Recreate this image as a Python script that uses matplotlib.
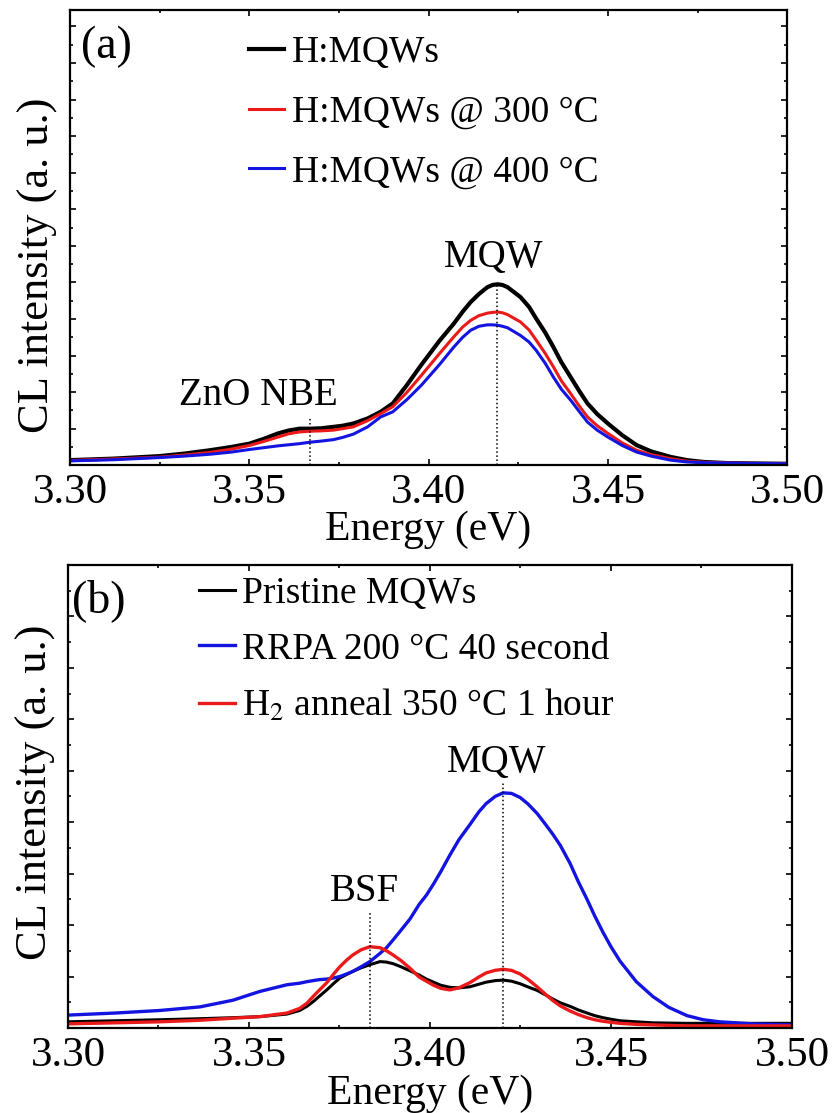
import numpy as np
import matplotlib
matplotlib.use('Agg')
import matplotlib.pyplot as plt
from matplotlib.ticker import MultipleLocator, FormatStrFormatter

plt.rcParams['font.family'] = ['Liberation Serif', 'DejaVu Serif']
plt.rcParams['mathtext.fontset'] = 'stix'

# panel (a) - H:MQWs annealed
energy_a = [3.300, 3.312, 3.325, 3.332, 3.339, 3.345, 3.350, 3.354, 3.358, 3.361,
            3.364, 3.367, 3.370, 3.3735, 3.376, 3.379, 3.383, 3.3866, 3.390, 3.394,
            3.398, 3.403, 3.407, 3.4095, 3.4117, 3.414, 3.4164, 3.4178, 3.4192, 3.4206,
            3.422, 3.4256, 3.428, 3.430, 3.4325, 3.4348, 3.437, 3.4396, 3.442, 3.4443,
            3.447, 3.450, 3.454, 3.458, 3.462, 3.4674, 3.472, 3.4766, 3.483, 3.490,
            3.500]
h_mqw = [0.14, 0.18, 0.25, 0.32, 0.41, 0.50, 0.59, 0.72, 0.87, 0.95,
         1.00, 1.00, 1.01, 1.05, 1.08, 1.14, 1.28, 1.46, 1.69, 2.20,
         2.75, 3.40, 3.87, 4.20, 4.46, 4.68, 4.87, 4.93, 4.95, 4.93,
         4.87, 4.60, 4.33, 4.01, 3.63, 3.23, 2.82, 2.41, 2.03, 1.69,
         1.40, 1.14, 0.82, 0.55, 0.38, 0.23, 0.14, 0.09, 0.06, 0.05,
         0.04]
h_mqw_300 = [0.13, 0.17, 0.22, 0.28, 0.35, 0.44, 0.54, 0.65, 0.77, 0.86,
             0.91, 0.93, 0.94, 0.96, 1.00, 1.05, 1.22, 1.41, 1.60, 2.00,
             2.46, 3.05, 3.51, 3.78, 3.96, 4.09, 4.16, 4.18, 4.19, 4.17,
             4.12, 3.92, 3.70, 3.42, 3.06, 2.69, 2.31, 1.96, 1.62, 1.32,
             1.08, 0.87, 0.61, 0.41, 0.29, 0.18, 0.11, 0.08, 0.06, 0.05,
             0.04]
h_mqw_400 = [0.12, 0.15, 0.21, 0.25, 0.30, 0.36, 0.43, 0.48, 0.53, 0.56,
             0.59, 0.63, 0.66, 0.70, 0.76, 0.85, 1.05, 1.32, 1.46, 1.80,
             2.19, 2.75, 3.23, 3.50, 3.69, 3.80, 3.84, 3.84, 3.83, 3.80,
             3.76, 3.55, 3.37, 3.14, 2.79, 2.41, 2.08, 1.78, 1.47, 1.18,
             0.96, 0.77, 0.54, 0.36, 0.25, 0.14, 0.09, 0.07, 0.06, 0.05,
             0.04]

# panel (b) - pristine / RRPA / H2 anneal
energy_b = [3.300, 3.313, 3.3254, 3.3365, 3.3456, 3.353, 3.3605, 3.364, 3.366, 3.3677,
            3.3695, 3.3715, 3.3733, 3.3751, 3.377, 3.3787, 3.381, 3.3834, 3.3862, 3.388,
            3.3898, 3.392, 3.3945, 3.397, 3.399, 3.401, 3.403, 3.4055, 3.408, 3.411,
            3.4135, 3.4155, 3.418, 3.4202, 3.4225, 3.4249, 3.427, 3.4296, 3.432, 3.434,
            3.436, 3.4387, 3.441, 3.4434, 3.4455, 3.4478, 3.450, 3.4525, 3.457, 3.4616,
            3.466, 3.471, 3.4755, 3.480, 3.4892, 3.500]
pristine = [0.12, 0.14, 0.16, 0.18, 0.20, 0.22, 0.27, 0.34, 0.42, 0.51,
            0.62, 0.74, 0.86, 0.97, 1.04, 1.10, 1.17, 1.23, 1.29, 1.28,
            1.25, 1.19, 1.11, 1.03, 0.95, 0.89, 0.83, 0.79, 0.78, 0.80,
            0.85, 0.89, 0.92, 0.93, 0.91, 0.86, 0.80, 0.73, 0.64, 0.56,
            0.49, 0.42, 0.35, 0.29, 0.24, 0.20, 0.17, 0.14, 0.12, 0.10,
            0.095, 0.09, 0.09, 0.09, 0.09, 0.09]
rrpa = [0.25, 0.29, 0.34, 0.41, 0.54, 0.71, 0.84, 0.87, 0.90, 0.92,
        0.94, 0.95, 0.97, 1.00, 1.05, 1.10, 1.19, 1.29, 1.45, 1.56,
        1.71, 1.90, 2.12, 2.40, 2.58, 2.80, 3.04, 3.36, 3.66, 3.95,
        4.20, 4.36, 4.50, 4.57, 4.56, 4.48, 4.36, 4.17, 3.95, 3.76,
        3.55, 3.20, 2.84, 2.50, 2.18, 1.86, 1.58, 1.30, 0.90, 0.61,
        0.40, 0.24, 0.16, 0.12, 0.08, 0.06]
h2_anneal = [0.08, 0.10, 0.12, 0.15, 0.19, 0.22, 0.29, 0.38, 0.48, 0.61,
             0.74, 0.88, 1.04, 1.19, 1.32, 1.42, 1.52, 1.58, 1.56, 1.50,
             1.42, 1.31, 1.16, 0.99, 0.91, 0.83, 0.77, 0.74, 0.78, 0.88,
             0.99, 1.07, 1.12, 1.14, 1.12, 1.05, 0.95, 0.80, 0.65, 0.53,
             0.43, 0.33, 0.26, 0.20, 0.16, 0.13, 0.11, 0.09, 0.07, 0.06,
             0.05, 0.04, 0.04, 0.04, 0.04, 0.04]

RED = '#ea1a1a'
BLUE = '#1414e0'

fig = plt.figure(figsize=(8.36, 11.13), dpi=100)
ax1 = fig.add_axes([0.0837, 0.582, 0.858, 0.409])
ax2 = fig.add_axes([0.0813, 0.0764, 0.866, 0.416])


def style_axis(ax, ymax):
    ax.set_xlim(3.30, 3.50)
    ax.set_ylim(0, ymax)
    ax.xaxis.set_major_locator(MultipleLocator(0.05))
    ax.xaxis.set_minor_locator(MultipleLocator(0.025))
    ax.xaxis.set_major_formatter(FormatStrFormatter('%.2f'))
    ax.yaxis.set_major_locator(MultipleLocator(1))
    ax.yaxis.set_minor_locator(MultipleLocator(0.5))
    ax.tick_params(which='both', direction='in', top=True, right=True,
                   labelleft=False, width=1.2)
    ax.tick_params(which='major', length=4.5, labelsize=31, pad=6)
    ax.tick_params(which='minor', length=2.5)
    for s in ax.spines.values():
        s.set_linewidth(1.6)
    ax.set_xlabel('Energy (eV)', fontsize=30)
    ax.set_ylabel('CL intensity (a. u.)', fontsize=32)


# (a)
ax1.plot(energy_a, h_mqw, color='black', lw=3.0, label='H:MQWs')
ax1.plot(energy_a, h_mqw_300, color=RED, lw=2.2, label='H:MQWs @ 300 °C')
ax1.plot(energy_a, h_mqw_400, color=BLUE, lw=2.2, label='H:MQWs @ 400 °C')
ax1.plot([3.367, 3.367], [0, 1.31], color='black', ls=':', lw=1.1)
ax1.plot([3.4192, 3.4192], [0, 4.95], color='black', ls=':', lw=1.1)
style_axis(ax1, 12.45)
ax1.xaxis.set_label_coords(0.5, -0.1)
ax1.yaxis.set_label_coords(-0.016, 0.44)
ax1.text(0.015, 0.919, '(a)', transform=ax1.transAxes, fontsize=33, va='center')
ax1.text(3.4181, 5.68, 'MQW', fontsize=28, ha='center', va='center')
ax1.text(3.3524, 1.91, 'ZnO NBE', fontsize=28, ha='center', va='center')
ax1.legend(loc='upper left', bbox_to_anchor=(0.249, 0.944), frameon=False,
           fontsize=27, handlelength=0.95, handletextpad=0.2, labelspacing=0.67,
           borderpad=0, borderaxespad=0)

# (b)
ax2.plot(energy_b, pristine, color='black', lw=2.2, label='Pristine MQWs')
ax2.plot(energy_b, rrpa, color=BLUE, lw=2.4, label='RRPA 200 °C 40 second')
ax2.plot(energy_b, h2_anneal, color=RED, lw=2.4, label='H$_2$ anneal 350 °C 1 hour')
ax2.plot([3.3834, 3.3834], [0, 2.24], color='black', ls=':', lw=1.1)
ax2.plot([3.4202, 3.4202], [0, 4.77], color='black', ls=':', lw=1.1)
style_axis(ax2, 9)
ax2.xaxis.set_label_coords(0.5, -0.1)
ax2.yaxis.set_label_coords(-0.016, 0.51)
ax2.text(0.006, 0.922, '(b)', transform=ax2.transAxes, fontsize=33, va='center')
ax2.text(3.4185, 5.16, 'MQW', fontsize=28, ha='center', va='center')
ax2.text(3.3818, 2.65, 'BSF', fontsize=28, ha='center', va='center')
ax2.legend(loc='upper left', bbox_to_anchor=(0.181, 0.975), frameon=False,
           fontsize=27, handlelength=0.95, handletextpad=0.2, labelspacing=0.56,
           borderpad=0, borderaxespad=0)

fig.savefig('out.png', dpi=100)
